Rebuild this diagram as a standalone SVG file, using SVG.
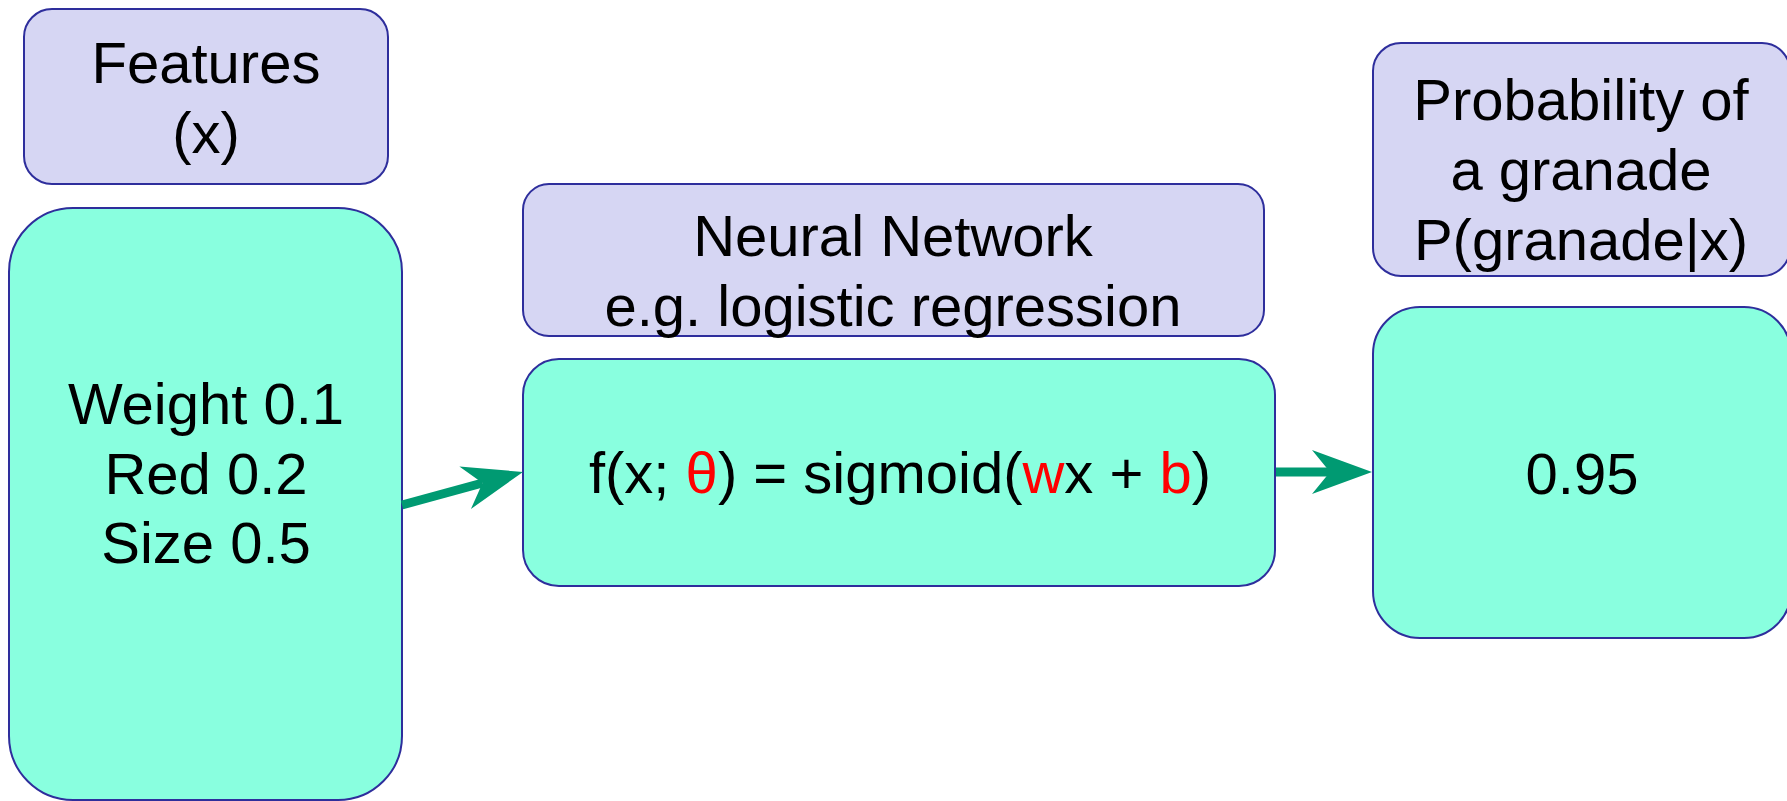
<svg xmlns="http://www.w3.org/2000/svg" width="1787" height="801" viewBox="0 0 1787 801">
  <style>
    .label { fill: #d6d6f3; stroke: #2e2e9c; stroke-width: 2; }
    .value { fill: #89ffdf; stroke: #2e2e9c; stroke-width: 2; }
    text { font-family: "Liberation Sans", Arial, sans-serif; font-size: 58px; fill: #000; text-anchor: middle; }
    .red { fill: #ff0000; }
    .conn { stroke: #009a72; stroke-width: 9; fill: none; }
  </style>
  <defs>
    <marker id="arrow" markerUnits="userSpaceOnUse" markerWidth="60" markerHeight="44" refX="18" refY="22" orient="auto" viewBox="0 0 60 44">
      <path d="M0,0 L60,22 L0,44 L18,22 Z" fill="#009a72"/>
    </marker>
  </defs>
  <rect width="1787" height="801" fill="#ffffff"/>

  <g id="features-label">
    <rect class="label" x="24" y="9" width="364" height="175" rx="28" ry="28"/>
    <text x="206" y="83">Features</text>
    <text x="206" y="153">(x)</text>
  </g>

  <g id="features-values">
    <rect class="value" x="9" y="208" width="393" height="592" rx="64" ry="64"/>
    <text x="206" y="424">Weight 0.1</text>
    <text x="206" y="494">Red 0.2</text>
    <text x="206" y="563">Size 0.5</text>
  </g>

  <g id="network-label">
    <rect class="label" x="523" y="184" width="741" height="152" rx="26" ry="26"/>
    <text x="893" y="256">Neural Network</text>
    <text x="893" y="326">e.g. logistic regression</text>
  </g>

  <g id="network-function">
    <rect class="value" x="523" y="359" width="752" height="227" rx="36" ry="36"/>
    <text x="900" y="493">f(x; <tspan class="red">θ</tspan>) = sigmoid(<tspan class="red">w</tspan>x + <tspan class="red">b</tspan>)</text>
  </g>

  <g id="output-label">
    <rect class="label" x="1373" y="43" width="417" height="233" rx="28" ry="28"/>
    <text x="1581" y="120">Probability of</text>
    <text x="1581" y="190">a granade</text>
    <text x="1581" y="260">P(granade|x)</text>
  </g>

  <g id="output-value">
    <rect class="value" x="1373" y="307" width="418" height="331" rx="47" ry="47"/>
    <text x="1582" y="494">0.95</text>
  </g>

  <g id="connectors">
    <line class="conn" x1="402" y1="505" x2="482.5" y2="483" marker-end="url(#arrow)"/>
    <line class="conn" x1="1276" y1="472" x2="1330" y2="472" marker-end="url(#arrow)"/>
  </g>
</svg>
